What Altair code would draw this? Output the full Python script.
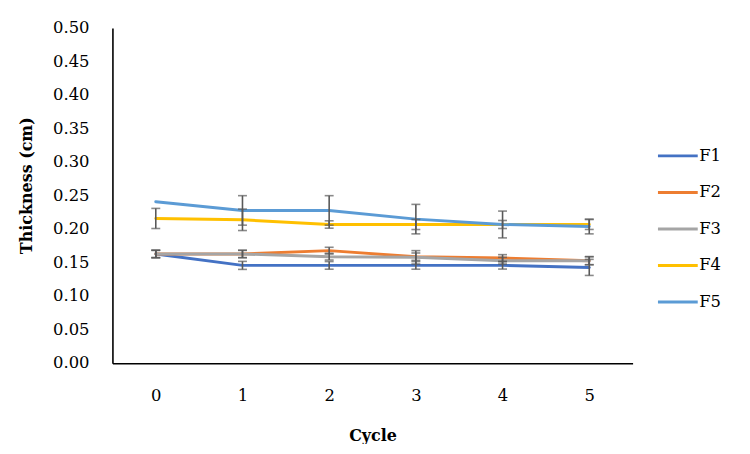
import altair as alt
import pandas as pd

series = ["F1", "F2", "F3", "F4", "F5"]
colors = ["#4472C4", "#ED7D31", "#A5A5A5", "#FFC000", "#5B9BD5"]
cycles = [0, 1, 2, 3, 4, 5]

f1 = [0.163, 0.146, 0.146, 0.146, 0.146, 0.143]
f2 = [0.163, 0.163, 0.168, 0.159, 0.157, 0.153]
f3 = [0.163, 0.163, 0.159, 0.158, 0.153, 0.153]
f4 = [0.216, 0.214, 0.207, 0.207, 0.207, 0.207]
f5 = [0.241, 0.228, 0.228, 0.215, 0.207, 0.204]

e1 = [0.0055, 0.006, 0.0057, 0.0057, 0.0055, 0.012]
e2 = [0.0055, 0.0055, 0.005, 0.0055, 0.005, 0.006]
e3 = [0.0055, 0.0055, 0.005, 0.010, 0.005, 0.006]
e4 = [0.015, 0.016, 0.0055, 0.0075, 0.006, 0.0074]
e5 = [0.0, 0.022, 0.022, 0.022, 0.020, 0.011]

y_ticks = [0.0, 0.05, 0.10, 0.15, 0.20, 0.25, 0.30, 0.35, 0.40, 0.45, 0.50]

rows = []
for name, vals, errs in zip(series, [f1, f2, f3, f4, f5], [e1, e2, e3, e4, e5]):
    for c, v, e in zip(cycles, vals, errs):
        rows.append({"series": name, "cycle": c, "value": v, "err": e,
                     "lo": v - e, "hi": v + e})
df = pd.DataFrame(rows)
ticks_df = pd.DataFrame({"tick": y_ticks})

FONT = "DejaVu Serif"

x_axis = alt.Axis(title="Cycle", labelAngle=0, ticks=False,
                  labelPadding=32, labelBaseline="middle",
                  titleY=73, titleBaseline="middle",
                  domainColor="#000000", domainWidth=1.6)
x_scale = alt.Scale(type="point", padding=0.5)
y_scale = alt.Scale(domain=[0, 0.5], nice=False)
y_axis = alt.Axis(title="Thickness (cm)", values=y_ticks, labels=False,
                  grid=False, ticks=False,
                  titleX=-86, titleY=158, titleAlign="center",
                  titleBaseline="middle",
                  domainColor="#000000", domainWidth=1.6)

color = alt.Color("series:N",
                  scale=alt.Scale(domain=series, range=colors),
                  legend=alt.Legend(title=None, orient="none",
                                    legendX=547, legendY=107,
                                    symbolType="stroke", symbolSize=1600,
                                    symbolStrokeWidth=3, rowPadding=6.7,
                                    labelOffset=0, padding=0))

X = alt.X("cycle:O", scale=x_scale, axis=x_axis)

lines = alt.Chart(df).mark_line(strokeWidth=3, strokeCap="round").encode(
    x=X,
    y=alt.Y("value:Q", scale=y_scale, axis=y_axis),
    color=color,
    order=alt.Order("cycle:O"),
)

eb = alt.Chart(df).transform_filter("datum.err > 0")
rules = eb.mark_rule(color="#595959", strokeWidth=1.6).encode(
    x=X, y=alt.Y("lo:Q", scale=y_scale, axis=y_axis), y2="hi:Q")
caps_lo = eb.mark_tick(color="#595959", thickness=1.6, size=9,
                       orient="horizontal").encode(
    x=X, y=alt.Y("lo:Q", scale=y_scale, axis=y_axis))
caps_hi = eb.mark_tick(color="#595959", thickness=1.6, size=9,
                       orient="horizontal").encode(
    x=X, y=alt.Y("hi:Q", scale=y_scale, axis=y_axis))

ylabels = alt.Chart(ticks_df).mark_text(
    align="right", baseline="middle", font=FONT, fontSize=16.5,
    color="#000000").encode(
    y=alt.Y("tick:Q", scale=y_scale, axis=y_axis),
    x=alt.value(-23),
    text=alt.Text("tick:Q", format=".2f"),
)

chart = alt.layer(lines, rules, caps_lo, caps_hi, ylabels).properties(
    width=523, height=337,
    autosize=alt.AutoSizeParams(type="none"),
    padding={"left": 105, "top": 19, "right": 110, "bottom": 80},
).configure_view(stroke=None).configure_axis(
    labelFont=FONT, titleFont=FONT, labelFontSize=16.5, titleFontSize=16,
    labelColor="#000000", titleColor="#000000", titleFontWeight="bold",
).configure_legend(labelFont=FONT, labelFontSize=16.5, labelColor="#000000")

chart.save("out.html", embed_options={"renderer": "svg", "actions": False})
